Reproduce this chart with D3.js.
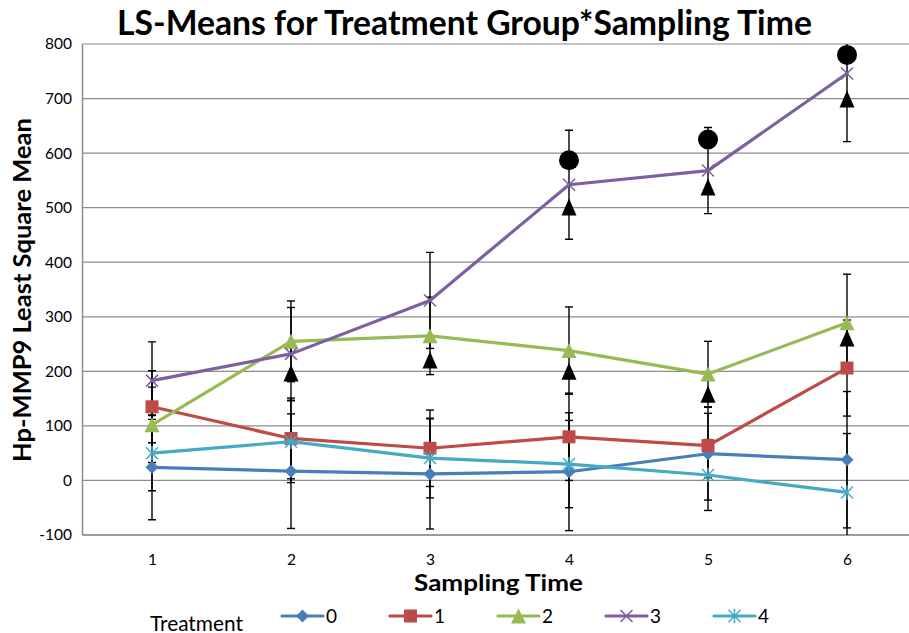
<!DOCTYPE html>
<html>
<head>
<meta charset="utf-8">
<script src="https://cdn.jsdelivr.net/npm/d3@7"></script>
<style>
  body { margin: 0; background: #fff; }
  svg { display: block; }
  text { font-family: Lato, "Open Sans", sans-serif; fill: #000; }
</style>
</head>
<body>
<svg id="chart" width="909" height="633"></svg>
<script>
// Sampling times (categories) and treatment groups
const times = [1, 2, 3, 4, 5, 6];
const treatments = ["0", "1", "2", "3", "4"];

// LS-means per treatment group across sampling times
const mean0 = [24, 17, 12, 16, 49, 38];
const mean1 = [135, 77, 59, 80, 64, 206];
const mean2 = [102, 255, 265, 238, 195, 289];
const mean3 = [183, 232, 330, 542, 568, 746];
const mean4 = [50, 71, 41, 30, 10, -22];

// Half-widths of the error bars
const err0 = [96, 105, 101, 108, 85, 125];
const err1 = [66, 74, 70, 80, 59, 88];
const err2 = [69, 74, 71, 80, 60, 89];
const err3 = [71, 85, 88, 100, 79, 125];
const err4 = [69, 75, 73, 80, 65, 108];

// Significance markers (black triangles and circles)
const triTimes = [2, 3, 4, 4, 5, 5, 6, 6];
const triValues = [197, 221, 200, 501, 158, 538, 261, 699];
const dotTimes = [4, 5, 6];
const dotValues = [587, 625, 780];

// Axis ticks
const yTicks = [-100, 0, 100, 200, 300, 400, 500, 600, 700, 800];

const means = [mean0, mean1, mean2, mean3, mean4];
const errs = [err0, err1, err2, err3, err4];
const colors = ["#4A7EBB", "#BE4B48", "#98B954", "#7D60A0", "#46AAC5"];
const shapes = ["diamond", "square", "triangle", "x", "star"];

const svg = d3.select("#chart");
const plot = { left: 82.5, top: 44, bottom: 535, right: 916.5 };

const x = d3.scalePoint().domain(times).range([plot.left, plot.right]).padding(0.5);
const y = d3.scaleLinear().domain([-100, 800]).range([plot.bottom, plot.top]);

svg.append("defs").append("clipPath").attr("id", "plotClip")
  .append("rect")
  .attr("x", plot.left).attr("y", plot.top)
  .attr("width", plot.right - plot.left).attr("height", plot.bottom - plot.top);

// Horizontal gridlines
svg.append("g").selectAll("line").data(yTicks).join("line")
  .attr("x1", plot.left).attr("x2", plot.right)
  .attr("y1", d => y(d)).attr("y2", d => y(d))
  .attr("stroke", "#8c8c8c").attr("stroke-width", 1.2);

// Axis lines
svg.append("line").attr("x1", plot.left).attr("x2", plot.left)
  .attr("y1", plot.top).attr("y2", plot.bottom)
  .attr("stroke", "#8c8c8c").attr("stroke-width", 1.5);
svg.append("line").attr("x1", plot.left).attr("x2", plot.right)
  .attr("y1", plot.bottom).attr("y2", plot.bottom)
  .attr("stroke", "#8c8c8c").attr("stroke-width", 1.5);

// Y tick labels
const yAxis = svg.append("g").attr("transform", `translate(${plot.left},0)`)
  .call(d3.axisLeft(y).tickValues(yTicks).tickSize(0).tickPadding(10.5).tickFormat(d => String(d)));
yAxis.select(".domain").remove();
yAxis.selectAll("text").attr("font-size", 15.5).attr("font-family", "Lato, sans-serif").attr("fill", "#000");

// X tick labels
const xAxis = svg.append("g").attr("transform", `translate(0,${plot.bottom})`)
  .call(d3.axisBottom(x).tickSize(0).tickPadding(19));
xAxis.select(".domain").remove();
xAxis.selectAll("text").attr("font-size", 15.5).attr("font-family", "Lato, sans-serif").attr("fill", "#000");

// Error bars
const capW = 4;
const eb = svg.append("g").attr("clip-path", "url(#plotClip)")
  .attr("stroke", "#000").attr("stroke-width", 1.4).attr("fill", "none");
means.forEach((m, s) => {
  m.forEach((v, i) => {
    const cx = x(times[i]);
    const lo = y(v - errs[s][i]), hi = y(v + errs[s][i]);
    eb.append("line").attr("x1", cx).attr("x2", cx).attr("y1", lo).attr("y2", hi);
    eb.append("line").attr("x1", cx - capW).attr("x2", cx + capW).attr("y1", lo).attr("y2", lo);
    eb.append("line").attr("x1", cx - capW).attr("x2", cx + capW).attr("y1", hi).attr("y2", hi);
  });
});

// Marker drawing
function drawMarker(g, shape, cx, cy, color) {
  if (shape === "diamond") {
    const r = 6.5;
    g.append("path").attr("d", `M${cx},${cy - r}L${cx + r},${cy}L${cx},${cy + r}L${cx - r},${cy}Z`)
      .attr("fill", color);
  } else if (shape === "square") {
    const r = 6.5;
    g.append("rect").attr("x", cx - r).attr("y", cy - r).attr("width", 2 * r).attr("height", 2 * r)
      .attr("fill", color);
  } else if (shape === "triangle") {
    const w = 7.5, h = 7.5;
    g.append("path").attr("d", `M${cx},${cy - h}L${cx + w},${cy + h}L${cx - w},${cy + h}Z`)
      .attr("fill", color);
  } else if (shape === "x") {
    const r = 6;
    g.append("path").attr("d", `M${cx - r},${cy - r}L${cx + r},${cy + r}M${cx - r},${cy + r}L${cx + r},${cy - r}`)
      .attr("stroke", color).attr("stroke-width", 1.5).attr("fill", "none");
  } else if (shape === "star") {
    const r = 6;
    g.append("path").attr("d", `M${cx - r},${cy - r}L${cx + r},${cy + r}M${cx - r},${cy + r}L${cx + r},${cy - r}M${cx},${cy - r * 1.2}L${cx},${cy + r * 1.2}`)
      .attr("stroke", color).attr("stroke-width", 1.5).attr("fill", "none");
  }
}

// Series lines and markers
const line = d3.line().x((d, i) => x(times[i])).y(d => y(d));
means.forEach((m, s) => {
  const g = svg.append("g");
  g.append("path").datum(m).attr("d", line)
    .attr("fill", "none").attr("stroke", colors[s]).attr("stroke-width", 3.2)
    .attr("stroke-linejoin", "round").attr("stroke-linecap", "round");
  m.forEach((v, i) => drawMarker(g, shapes[s], x(times[i]), y(v), colors[s]));
});

// Significance markers
const sig = svg.append("g").attr("fill", "#000");
triTimes.forEach((t, i) => {
  const cx = x(t), cy = y(triValues[i]);
  const w = 7.5, h = 8.5;
  sig.append("path").attr("d", `M${cx},${cy - h}L${cx + w},${cy + h}L${cx - w},${cy + h}Z`);
});
dotTimes.forEach((t, i) => {
  sig.append("circle").attr("cx", x(t)).attr("cy", y(dotValues[i])).attr("r", 10);
});

// Fit a text element's font size to a target width
function fitWidth(sel, target) {
  const w = sel.node().getComputedTextLength();
  const fs = parseFloat(sel.attr("font-size"));
  sel.attr("font-size", fs * target / w);
  return sel;
}

// Chart title
fitWidth(svg.append("text").attr("x", 464.5).attr("y", 35)
  .attr("text-anchor", "middle").attr("font-weight", "bold").attr("font-size", 30)
  .text("LS-Means for Treatment Group*Sampling Time"), 695);

// Y axis title
fitWidth(svg.append("text")
  .attr("transform", "translate(31,290) rotate(-90)")
  .attr("text-anchor", "middle").attr("font-weight", "bold").attr("font-size", 24)
  .text("Hp-MMP9 Least Square Mean"), 344);

// X axis title
svg.append("text").attr("x", 498.5).attr("y", 591)
  .attr("text-anchor", "middle").attr("font-weight", "bold").attr("font-size", 23)
  .attr("textLength", 169).attr("lengthAdjust", "spacingAndGlyphs")
  .text("Sampling Time");

// Legend
fitWidth(svg.append("text").attr("x", 150).attr("y", 630.5)
  .attr("font-size", 17).text("Treatment"), 93);

const legendX = [282, 390, 498, 606, 714];
const legendY = 616;
treatments.forEach((t, s) => {
  const g = svg.append("g");
  const x0 = legendX[s], x1 = x0 + 41;
  g.append("line").attr("x1", x0).attr("x2", x1).attr("y1", legendY).attr("y2", legendY)
    .attr("stroke", colors[s]).attr("stroke-width", 3.2).attr("stroke-linecap", "round");
  drawMarker(g, shapes[s], (x0 + x1) / 2, legendY, colors[s]);
  g.append("text").attr("x", x1 + 3).attr("y", legendY + 7)
    .attr("font-size", 19).text(t);
});
</script>
</body>
</html>
